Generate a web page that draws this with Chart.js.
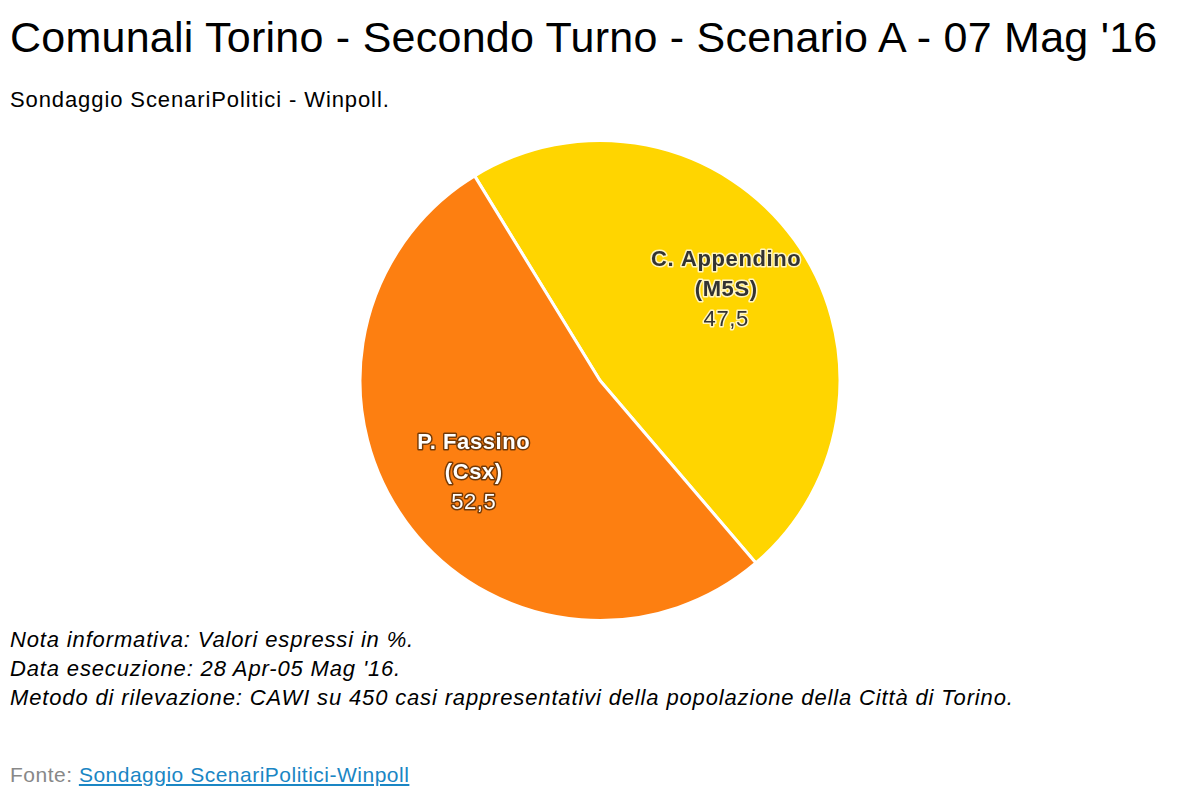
<!DOCTYPE html>
<html>
<head>
<meta charset="utf-8">
<script src="https://cdn.jsdelivr.net/npm/chart.js@4/dist/chart.umd.min.js"></script>
<style>
    body { margin: 0; width: 1200px; height: 800px; background: #fff; font-family: "Liberation Sans", Arial, sans-serif; position: relative; overflow: hidden; }
    #title { position: absolute; left: 10px; top: 13px; font-size: 43px; letter-spacing: 0.25px; color: #000; white-space: nowrap; }
    #subtitle { position: absolute; left: 10px; top: 87px; font-size: 22px; letter-spacing: 0.9px; color: #000; white-space: nowrap; }
    #chartBox { position: absolute; left: 0; top: 139px; width: 1200px; height: 483px; }
    #notes { position: absolute; left: 10px; top: 625px; font-size: 22px; letter-spacing: 0.85px; font-style: italic; line-height: 29px; color: #000; white-space: nowrap; }
    #fonte { position: absolute; left: 10px; top: 763px; font-size: 21px; letter-spacing: 0.5px; color: #888; white-space: nowrap; }
    #fonte a { color: #1a86c4; text-decoration: underline; }
</style>
</head>
<body>
<div id="title">Comunali Torino - Secondo Turno - Scenario A - 07 Mag '16</div>
<div id="subtitle">Sondaggio ScenariPolitici - Winpoll.</div>
<div id="chartBox"><canvas id="pieChart"></canvas></div>
<div id="notes">
    Nota informativa: Valori espressi in %.<br>
    Data esecuzione: 28 Apr-05 Mag '16.<br>
    Metodo di rilevazione: CAWI su 450 casi rappresentativi della popolazione della Città di Torino.
</div>
<div id="fonte">Fonte: <a href="#">Sondaggio ScenariPolitici-Winpoll</a></div>

<script>
const candidates = ['C. Appendino', 'P. Fassino'];
const parties = ['(M5S)', '(Csx)'];
const values = [47.5, 52.5];
const sliceColors = ['#ffd500', '#fd7f11'];
const labelColors = ['#333333', '#ffffff'];
const outlineColors = ['rgba(255,255,255,0.75)', 'rgba(0,0,0,0.55)'];

// draws name, party and value inside each slice
const sliceLabels = {
    id: 'sliceLabels',
    afterDatasetsDraw(chart) {
        const ctx = chart.ctx;
        const meta = chart.getDatasetMeta(0);
        meta.data.forEach((arc, i) => {
            const mid = (arc.startAngle + arc.endAngle) / 2;
            const r = arc.outerRadius * 0.65;
            const x = arc.x + Math.cos(mid) * r;
            const y = arc.y + Math.sin(mid) * r + 1;
            const lines = [
                { text: candidates[i], font: 'bold 22px "Liberation Sans", Arial, sans-serif' },
                { text: parties[i], font: 'bold 22px "Liberation Sans", Arial, sans-serif' },
                { text: values[i].toFixed(1).replace('.', ','), font: '22px "Liberation Sans", Arial, sans-serif' }
            ];
            ctx.save();
            ctx.textAlign = 'center';
            ctx.textBaseline = 'middle';
            ctx.lineJoin = 'round';
            ctx.letterSpacing = '0.6px';
            lines.forEach((line, j) => {
                const ly = y + (j - 1) * 30;
                ctx.font = line.font;
                ctx.strokeStyle = outlineColors[i];
                ctx.lineWidth = 3;
                ctx.strokeText(line.text, x, ly);
                ctx.fillStyle = labelColors[i];
                ctx.fillText(line.text, x, ly);
            });
            ctx.restore();
        });
    }
};

const ctx = document.getElementById('pieChart').getContext('2d');
new Chart(ctx, {
    type: 'pie',
    data: {
        labels: candidates.map((c, i) => c + ' ' + parties[i]),
        datasets: [{
            data: values,
            backgroundColor: sliceColors,
            borderColor: '#ffffff',
            borderWidth: 3
        }]
    },
    options: {
        responsive: true,
        maintainAspectRatio: false,
        animation: false,
        rotation: -31.5,
        layout: { padding: 0 },
        plugins: {
            legend: { display: false },
            tooltip: { enabled: false }
        }
    },
    plugins: [sliceLabels]
});
</script>
</body>
</html>
